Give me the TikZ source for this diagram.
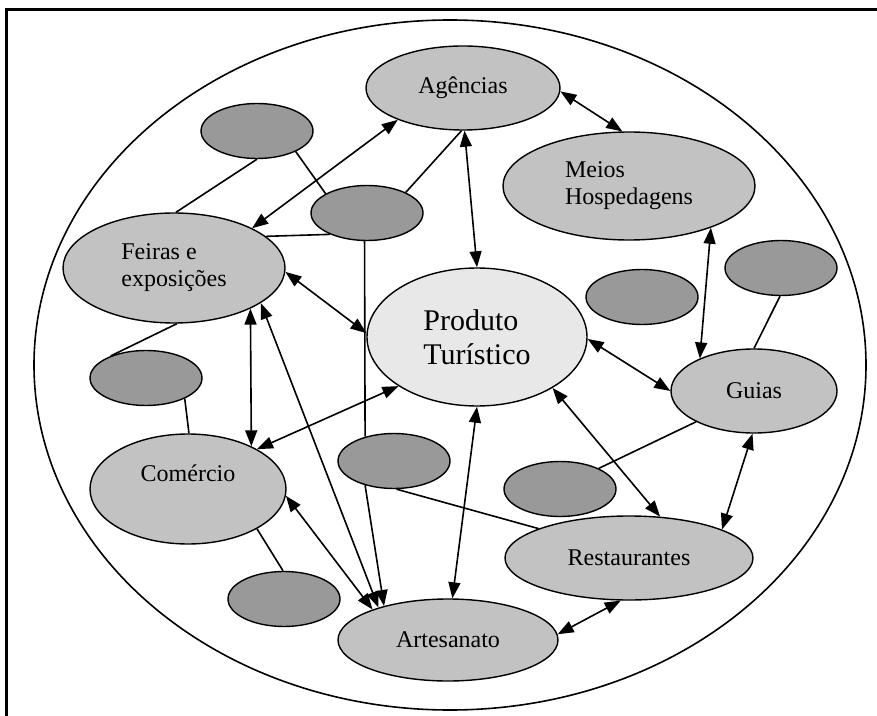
\documentclass[tikz,border=0pt]{standalone}
\usepackage{fontspec}
\setmainfont{Liberation Serif}
\usetikzlibrary{shapes.geometric,arrows.meta}
\definecolor{lightgr}{gray}{0.76}
\definecolor{darkgr}{gray}{0.6}
\definecolor{centergr}{gray}{0.91}
\begin{document}
\begin{tikzpicture}[x=0.5pt,y=-0.5pt,
  >={Triangle[length=8pt,width=6pt]},
  box/.style={draw, ellipse, fill=lightgr, line width=0.7pt, inner sep=1pt, font=\fontsize{12}{13.5}\selectfont},
  blob/.style={draw, ellipse, fill=darkgr, line width=0.7pt, minimum width=56pt, minimum height=27.5pt},
  link/.style={line width=0.8pt}]
\useasboundingbox (0,0) rectangle (877,716);
\clip (0,0) rectangle (877,716);
\draw[line width=1.5pt] (6,730) -- (6,10) -- (890,10);
\node[draw, ellipse, line width=0.8pt, minimum width=416pt, minimum height=345pt] (all) at (450,365) {};
\node[box, minimum width=97pt, minimum height=42pt] (ag) at (463,88) {Agências};
\node[box, minimum width=126pt, minimum height=54pt, align=left] (mh) at (629,186) {Meios\\Hospedagens};
\node[box, fill=centergr, minimum width=110pt, minimum height=69pt, align=left, font=\fontsize{15}{17}\selectfont] (pt) at (477,337) {Produto\\Turístico};
\node[box, minimum width=111pt, minimum height=55pt, align=left] (fe) at (174,268) {Feiras e\\exposições};
\node[box, minimum width=83pt, minimum height=42pt] (gu) at (754,391) {Guias};
\node[box, minimum width=124pt, minimum height=42pt] (re) at (629,558) {Restaurantes};
\node[box, minimum width=110pt, minimum height=41pt] (ar) at (448,640) {Artesanato};
\node[box, minimum width=98pt, minimum height=55pt, text depth=16pt] (co) at (188,489) {Comércio};
\node[blob] (a1) at (257,131) {};
\node[blob] (a2) at (367,213) {};
\node[blob] (a3) at (146,378) {};
\node[blob] (a4) at (284,599) {};
\node[blob] (a5) at (394,461) {};
\node[blob] (a6) at (560,489) {};
\node[blob] (a7) at (642,297) {};
\node[blob] (a8) at (781,268) {};
\draw[link, <->] (ag.-2) -- (mh.97);
\draw[link, <->] (ag.-88) -- (pt.90);
\draw[link, <->] (ag.-154) -- (fe.27);
\draw[link, <->] (fe.-2) -- (pt.178);
\draw[link, <->] (pt.-148) -- (co.30);
\draw[link, <->] (pt.-1) -- (gu.180);
\draw[link, <->] (pt.-34) -- (re.53);
\draw[link, <->] (pt.-90) -- (ar.84);
\draw[link, <->] (mh.-27) -- (gu.149);
\draw[link, <->] (gu.-92) -- (re.17);
\draw[link, <->] (re.-101) -- (ar.3);
\draw[link, <->] (fe.-28) -- (co.34);
\draw[link, <->] (fe.-22) -- (ar.155);
\draw[link, <->] (co.-4) -- (ar.158);
\draw[link, ->] (a5.-140) -- (ar.152);
\draw[link] (a2.-95) -- (a5.140);
\draw[link] (a1.-90) -- (fe.88);
\draw[link] (a1.-28) -- (a2.155);
\draw[link] (a2.28) -- (ag.-92);
\draw[link] (a2.-150) -- (fe.19);
\draw[link] (a3.148) -- (fe.-87);
\draw[link] (a3.-28) -- (co.89);
\draw[link] (a4.92) -- (co.-30);
\draw[link] (a5.-85) -- (re.162);
\draw[link] (a6.28) -- (gu.-152);
\draw[link] (a8.-92) -- (gu.90);
\end{tikzpicture}
\end{document}
